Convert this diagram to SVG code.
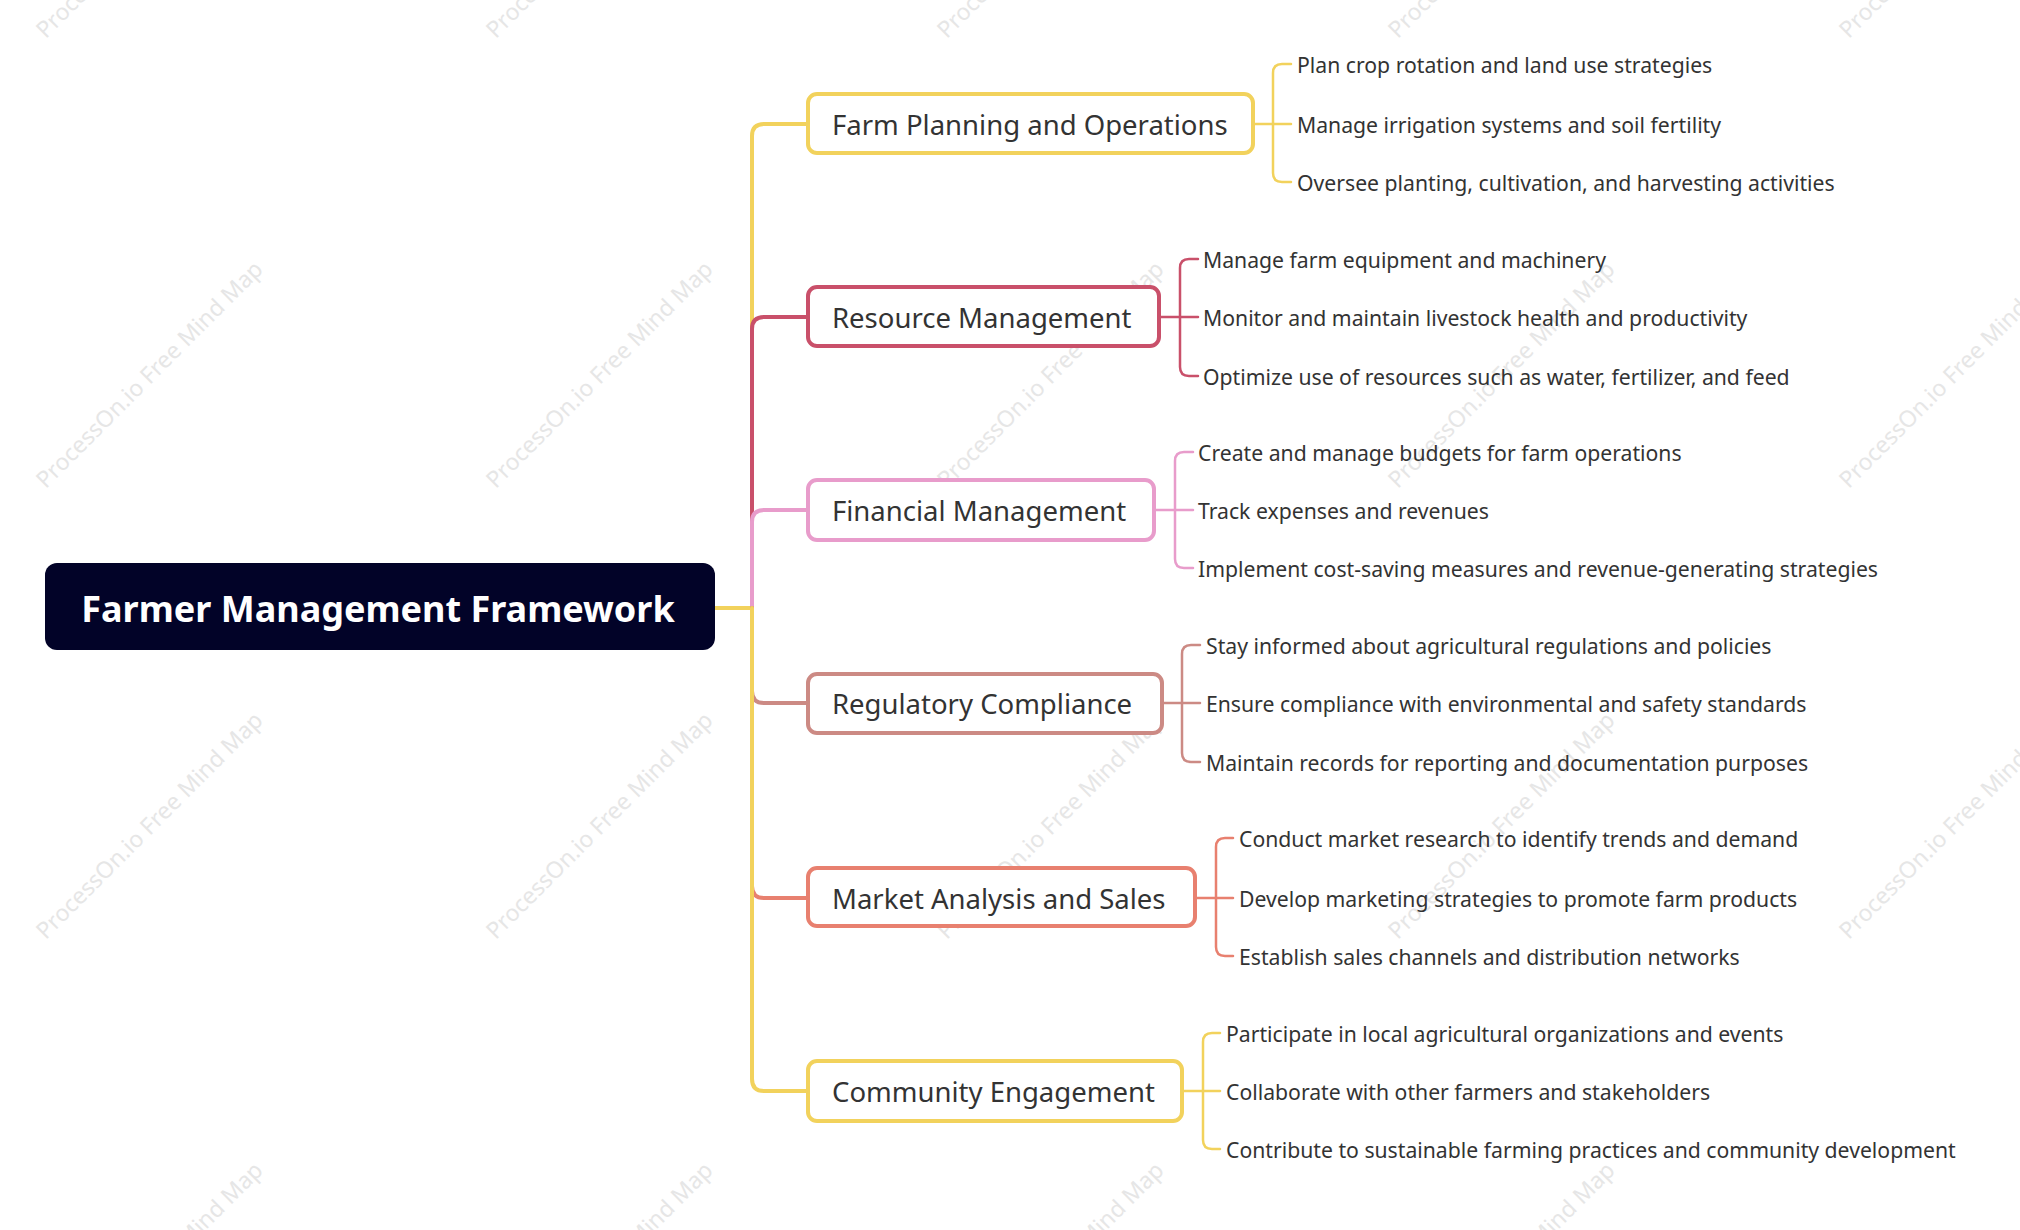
<svg xmlns="http://www.w3.org/2000/svg" width="2020" height="1230" viewBox="0 0 2020 1230">
<style>
.wm{font-family:"Noto Sans",sans-serif;font-size:23px;fill:#e6e6e6;text-anchor:middle}
.br{font-family:"Noto Sans",sans-serif;font-size:27.5px;fill:#333;dominant-baseline:central}
.lf{font-family:"Noto Sans",sans-serif;font-size:21.2px;fill:#333;dominant-baseline:central}
.c{fill:none;stroke-linecap:round}
.b{fill:#fff;stroke-width:4}
</style>
<rect width="2020" height="1230" fill="#fff"/>
<g id="watermarks">
<text class="wm" transform="translate(155,-70) rotate(-45)">ProcessOn.io Free Mind Map</text>
<text class="wm" transform="translate(605,-70) rotate(-45)">ProcessOn.io Free Mind Map</text>
<text class="wm" transform="translate(1056,-70) rotate(-45)">ProcessOn.io Free Mind Map</text>
<text class="wm" transform="translate(1507,-70) rotate(-45)">ProcessOn.io Free Mind Map</text>
<text class="wm" transform="translate(1958,-70) rotate(-45)">ProcessOn.io Free Mind Map</text>
<text class="wm" transform="translate(155,380) rotate(-45)">ProcessOn.io Free Mind Map</text>
<text class="wm" transform="translate(605,380) rotate(-45)">ProcessOn.io Free Mind Map</text>
<text class="wm" transform="translate(1056,380) rotate(-45)">ProcessOn.io Free Mind Map</text>
<text class="wm" transform="translate(1507,380) rotate(-45)">ProcessOn.io Free Mind Map</text>
<text class="wm" transform="translate(1958,380) rotate(-45)">ProcessOn.io Free Mind Map</text>
<text class="wm" transform="translate(155,831) rotate(-45)">ProcessOn.io Free Mind Map</text>
<text class="wm" transform="translate(605,831) rotate(-45)">ProcessOn.io Free Mind Map</text>
<text class="wm" transform="translate(1056,831) rotate(-45)">ProcessOn.io Free Mind Map</text>
<text class="wm" transform="translate(1507,831) rotate(-45)">ProcessOn.io Free Mind Map</text>
<text class="wm" transform="translate(1958,831) rotate(-45)">ProcessOn.io Free Mind Map</text>
<text class="wm" transform="translate(155,1281) rotate(-45)">ProcessOn.io Free Mind Map</text>
<text class="wm" transform="translate(605,1281) rotate(-45)">ProcessOn.io Free Mind Map</text>
<text class="wm" transform="translate(1056,1281) rotate(-45)">ProcessOn.io Free Mind Map</text>
<text class="wm" transform="translate(1507,1281) rotate(-45)">ProcessOn.io Free Mind Map</text>
</g>
<g id="connectors">
<path class="c" stroke="#F2D25C" stroke-width="4" d="M715,608 H752"/>
<path class="c" stroke="#F2D25C" stroke-width="4" d="M752,608 V136 Q752,124 764,124 H808"/>
<path class="c" stroke="#C9506A" stroke-width="4" d="M752,608 V329 Q752,317 764,317 H808"/>
<path class="c" stroke="#E89CCB" stroke-width="4" d="M752,608 V522 Q752,510 764,510 H808"/>
<path class="c" stroke="#CC8A84" stroke-width="4" d="M752,608 V691 Q752,703 764,703 H808"/>
<path class="c" stroke="#E8806F" stroke-width="4" d="M752,608 V886 Q752,898 764,898 H808"/>
<path class="c" stroke="#F2D25C" stroke-width="4" d="M752,608 V1079 Q752,1091 764,1091 H808"/>
<g stroke-width="2.5" class="c">
<path stroke="#F2D25C" d="M1253,124 H1291 M1291,64 H1282 Q1273,64 1273,73 V173 Q1273,182 1282,182 H1291"/>
<path stroke="#C9506A" d="M1159,317 H1198 M1198,259 H1189 Q1180,259 1180,268 V367 Q1180,376 1189,376 H1198"/>
<path stroke="#E89CCB" d="M1154,510 H1193 M1193,452 H1184 Q1175,452 1175,461 V559 Q1175,568 1184,568 H1193"/>
<path stroke="#CC8A84" d="M1162,703 H1200 M1200,645 H1191 Q1182,645 1182,654 V753 Q1182,762 1191,762 H1200"/>
<path stroke="#E8806F" d="M1195,898 H1233 M1233,838 H1225 Q1216,838 1216,847 V947 Q1216,956 1225,956 H1233"/>
<path stroke="#F2D25C" d="M1182,1091 H1220 M1220,1033 H1212 Q1203,1033 1203,1042 V1140 Q1203,1149 1212,1149 H1220"/>
</g>
</g>
<g id="root">
<rect x="45" y="563" width="670" height="87" rx="12" fill="#020328"/>
<text x="378" y="608" font-family="'Noto Sans',sans-serif" font-size="36" font-weight="bold" fill="#fff" text-anchor="middle" dominant-baseline="central">Farmer Management Framework</text>
</g>
<g id="farm">
<rect class="b" x="808" y="94" width="445" height="59" rx="9" stroke="#F2D25C"/>
<text class="br" x="832" y="124">Farm Planning and Operations</text>
<text class="lf" x="1297" y="64">Plan crop rotation and land use strategies</text>
<text class="lf" x="1297" y="124">Manage irrigation systems and soil fertility</text>
<text class="lf" x="1297" y="182">Oversee planting, cultivation, and harvesting activities</text>
</g>
<g id="resource">
<rect class="b" x="808" y="287" width="351" height="59" rx="9" stroke="#C9506A"/>
<text class="br" x="832" y="317">Resource Management</text>
<text class="lf" x="1203" y="259">Manage farm equipment and machinery</text>
<text class="lf" x="1203" y="317">Monitor and maintain livestock health and productivity</text>
<text class="lf" x="1203" y="376">Optimize use of resources such as water, fertilizer, and feed</text>
</g>
<g id="financial">
<rect class="b" x="808" y="480" width="346" height="60" rx="9" stroke="#E89CCB"/>
<text class="br" x="832" y="510">Financial Management</text>
<text class="lf" x="1198" y="452">Create and manage budgets for farm operations</text>
<text class="lf" x="1198" y="510">Track expenses and revenues</text>
<text class="lf" x="1198" y="568">Implement cost-saving measures and revenue-generating strategies</text>
</g>
<g id="regulatory">
<rect class="b" x="808" y="674" width="354" height="59" rx="9" stroke="#CC8A84"/>
<text class="br" x="832" y="703">Regulatory Compliance</text>
<text class="lf" x="1206" y="645">Stay informed about agricultural regulations and policies</text>
<text class="lf" x="1206" y="703">Ensure compliance with environmental and safety standards</text>
<text class="lf" x="1206" y="762">Maintain records for reporting and documentation purposes</text>
</g>
<g id="market">
<rect class="b" x="808" y="868" width="387" height="58" rx="9" stroke="#E8806F"/>
<text class="br" x="832" y="898">Market Analysis and Sales</text>
<text class="lf" x="1239" y="838">Conduct market research to identify trends and demand</text>
<text class="lf" x="1239" y="898">Develop marketing strategies to promote farm products</text>
<text class="lf" x="1239" y="956">Establish sales channels and distribution networks</text>
</g>
<g id="community">
<rect class="b" x="808" y="1061" width="374" height="60" rx="9" stroke="#F2D25C"/>
<text class="br" x="832" y="1091">Community Engagement</text>
<text class="lf" x="1226" y="1033">Participate in local agricultural organizations and events</text>
<text class="lf" x="1226" y="1091">Collaborate with other farmers and stakeholders</text>
<text class="lf" x="1226" y="1149">Contribute to sustainable farming practices and community development</text>
</g>
</svg>
